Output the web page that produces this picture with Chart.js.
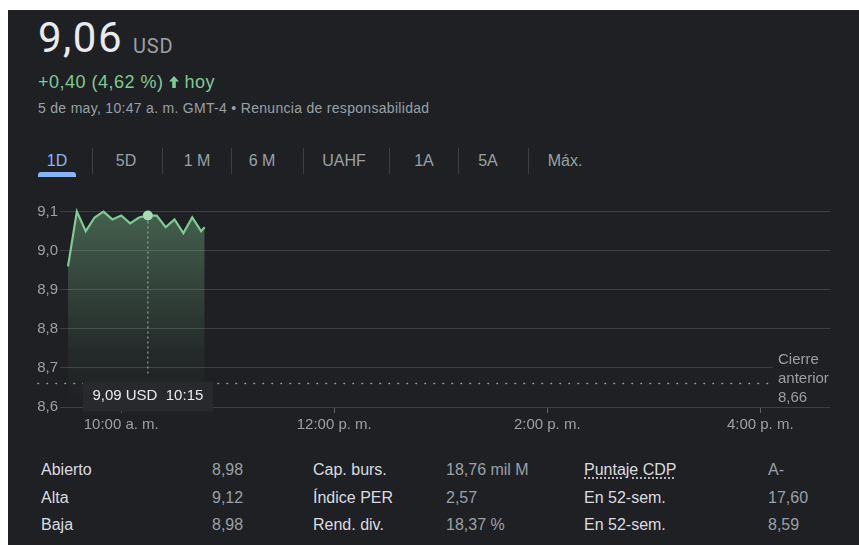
<!DOCTYPE html>
<html>
<head>
<meta charset="utf-8">
<script src="https://cdn.jsdelivr.net/npm/chart.js@4"></script>
<style>
body { margin: 0; width: 859px; height: 545px; overflow: hidden; background: #fff;
       font-family: "Liberation Sans", Arial, sans-serif; }
#panel { position: absolute; left: 8px; top: 10px; width: 851px; height: 535px; background: #1f2023; }
.t { position: absolute; white-space: nowrap; line-height: 1; }
.lbl { color: #dadce0; font-size: 16px; }
.val { color: #9aa0a6; font-size: 16px; }
.tab { color: #9aa0a6; font-size: 16px; transform: translateX(-50%); }
.sep { position: absolute; top: 148px; width: 1px; height: 26px; background: #3c4043; }
#wrap { position: absolute; left: 0; top: 185px; width: 859px; height: 255px; }
</style>
</head>
<body>
<div id="panel"></div>

<div class="t" style="left:38px;top:17px;font-family:Roboto;font-size:42px;color:#e8eaed;letter-spacing:1.5px">9,06</div>
<div class="t" style="left:133px;top:36px;font-family:Roboto;font-size:20px;color:#9aa0a6;letter-spacing:0.8px">USD</div>
<div class="t" style="left:38px;top:73px;font-size:18px;color:#81c995;letter-spacing:0.5px">+0,40 (4,62 %) <svg width="10" height="12" viewBox="0 0 10 12" style="vertical-align:0px"><path fill="#81c995" d="M5 0L10 5.5H6.8V12H3.2V5.5H0Z"/></svg> hoy</div>
<div class="t" style="left:38px;top:101px;font-size:14px;color:#9aa0a6;letter-spacing:0.3px">5 de may, 10:47 a. m. GMT-4 • Renuncia de responsabilidad</div>

<div class="t tab" style="left:57px;top:153px;color:#8ab4f8">1D</div>
<div style="position:absolute;left:38px;top:172px;width:38px;height:5px;background:#8ab4f8;border-radius:3px 3px 0 0"></div>
<div class="sep" style="left:92px"></div>
<div class="t tab" style="left:126px;top:153px">5D</div>
<div class="sep" style="left:162px"></div>
<div class="t tab" style="left:197px;top:153px">1 M</div>
<div class="sep" style="left:231px"></div>
<div class="t tab" style="left:262px;top:153px">6 M</div>
<div class="sep" style="left:303px"></div>
<div class="t tab" style="left:344px;top:153px">UAHF</div>
<div class="sep" style="left:389px"></div>
<div class="t tab" style="left:424px;top:153px">1A</div>
<div class="sep" style="left:458px"></div>
<div class="t tab" style="left:488px;top:153px">5A</div>
<div class="sep" style="left:528px"></div>
<div class="t tab" style="left:565px;top:153px">Máx.</div>

<div id="wrap"><canvas id="chart"></canvas></div>

<div class="t lbl" style="left:41px;top:462px">Abierto</div>
<div class="t val" style="left:212px;top:462px">8,98</div>
<div class="t lbl" style="left:313px;top:462px">Cap. burs.</div>
<div class="t val" style="left:446px;top:462px">18,76 mil M</div>
<div class="t lbl" style="left:584px;top:462px;text-decoration:underline dotted;text-underline-offset:3px">Puntaje CDP</div>
<div class="t val" style="left:768px;top:462px">A-</div>

<div class="t lbl" style="left:41px;top:490px">Alta</div>
<div class="t val" style="left:212px;top:490px">9,12</div>
<div class="t lbl" style="left:313px;top:490px">Índice PER</div>
<div class="t val" style="left:446px;top:490px">2,57</div>
<div class="t lbl" style="left:584px;top:490px">En 52-sem.</div>
<div class="t val" style="left:768px;top:490px">17,60</div>

<div class="t lbl" style="left:41px;top:517px">Baja</div>
<div class="t val" style="left:212px;top:517px">8,98</div>
<div class="t lbl" style="left:313px;top:517px">Rend. div.</div>
<div class="t val" style="left:446px;top:517px">18,37 %</div>
<div class="t lbl" style="left:584px;top:517px">En 52-sem.</div>
<div class="t val" style="left:768px;top:517px">8,59</div>

<script>
// intraday prices, 5 de may
const times = ['9:30', '9:35', '9:40', '9:45', '9:50', '9:55', '10:00', '10:05', '10:10',
               '10:15', '10:20', '10:25', '10:30', '10:35', '10:40', '10:45', '10:47'];
const prices = [8.96, 9.10, 9.05, 9.085, 9.10, 9.08, 9.09, 9.07, 9.085,
                9.09, 9.09, 9.06, 9.08, 9.045, 9.085, 9.05, 9.06];
const prevClose = 8.66;
const hoverIndex = 9;

const yTicks = [8.6, 8.7, 8.8, 8.9, 9.0, 9.1];
const xTickTimes = ['10:00', '12:00', '14:00', '16:00'];
const xTickLabels = ['10:00 a. m.', '12:00 p. m.', '2:00 p. m.', '4:00 p. m.'];

// minutes after the 9:30 open
function toMin(t) {
    const p = t.split(':');
    return (+p[0]) * 60 + (+p[1]) - 570;
}
const comma = (v, d) => v.toFixed(d).replace('.', ',');

const points = times.map((t, i) => ({ x: toMin(t), y: prices[i] }));

const green = '#81c995';

const overlay = {
    id: 'overlay',
    afterDraw(chart) {
        const { ctx, scales: { x, y } } = chart;
        const fam = '"Liberation Sans", Arial, sans-serif';
        ctx.save();

        // previous close dotted line
        const yc = y.getPixelForValue(prevClose);
        ctx.strokeStyle = '#9aa0a6';
        ctx.lineWidth = 1.6;
        ctx.lineCap = 'round';
        ctx.setLineDash([0.5, 8.5]);
        ctx.beginPath();
        ctx.moveTo(38, yc);
        ctx.lineTo(772, yc);
        ctx.stroke();

        // hover crosshair
        const hx = x.getPixelForValue(points[hoverIndex].x);
        const hy = y.getPixelForValue(points[hoverIndex].y);
        ctx.setLineDash([2, 3]);
        ctx.lineWidth = 1.2;
        ctx.lineCap = 'butt';
        ctx.beginPath();
        ctx.moveTo(hx, hy + 6);
        ctx.lineTo(hx, yc - 7);
        ctx.stroke();
        ctx.setLineDash([]);

        // hover label
        ctx.fillStyle = '#28292c';
        ctx.fillRect(hx - 65, yc - 2, 130, 30);
        ctx.fillStyle = '#e8eaed';
        ctx.font = '15px ' + fam;
        ctx.textAlign = 'center';
        ctx.textBaseline = 'middle';
        ctx.fillText(comma(prices[hoverIndex], 2) + ' USD  ' + times[hoverIndex], hx, yc + 12);

        // previous close label
        ctx.fillStyle = '#1f2023';
        ctx.fillRect(773, yc - 36, 60, 56);
        ctx.fillStyle = '#9aa0a6';
        ctx.textAlign = 'left';
        ctx.fillText('Cierre', 778, yc - 24);
        ctx.fillText('anterior', 778, yc - 5);
        ctx.fillText(comma(prevClose, 2), 778, yc + 14);
        ctx.restore();
    }
};

Chart.defaults.font.family = '"Liberation Sans", Arial, sans-serif';
Chart.defaults.color = '#9aa0a6';

new Chart(document.getElementById('chart'), {
    type: 'line',
    data: {
        datasets: [{
            data: points,
            borderColor: green,
            borderWidth: 2.2,
            tension: 0,
            fill: 'start',
            backgroundColor: function(context) {
                const area = context.chart.chartArea;
                if (!area) return 'rgba(129,201,149,0.3)';
                const g = context.chart.ctx.createLinearGradient(0, area.top, 0, area.bottom);
                g.addColorStop(0, 'rgba(129,201,149,0.42)');
                g.addColorStop(0.75, 'rgba(129,201,149,0.06)');
                g.addColorStop(1, 'rgba(129,201,149,0)');
                return g;
            },
            pointRadius: ctx => ctx.dataIndex === hoverIndex ? 5 : 0,
            pointBackgroundColor: '#a8dab5',
            pointBorderWidth: 0,
            clip: false
        }]
    },
    options: {
        responsive: true,
        maintainAspectRatio: false,
        animation: false,
        events: [],
        layout: { padding: { top: 6, right: 29, left: 0, bottom: 0 } },
        plugins: {
            legend: { display: false },
            tooltip: { enabled: false }
        },
        scales: {
            x: {
                type: 'linear',
                min: -4.5,
                max: 429.3,
                afterBuildTicks: axis => { axis.ticks = xTickTimes.map(t => ({ value: toMin(t) })); },
                afterFit: axis => { axis.height = 33; },
                border: { display: false },
                grid: { drawOnChartArea: false, drawTicks: true, tickLength: 6, color: '#5f6368' },
                ticks: {
                    padding: 3,
                    maxRotation: 0,
                    font: { size: 15 },
                    callback: (v, i) => xTickLabels[i]
                }
            },
            y: {
                min: 8.6,
                max: 9.14,
                afterBuildTicks: axis => { axis.ticks = yTicks.map(v => ({ value: v })); },
                afterFit: axis => { axis.width = 60; },
                border: { display: false },
                grid: { color: '#3c4043', drawTicks: false },
                ticks: {
                    padding: 2,
                    font: { size: 15 },
                    callback: v => comma(v, 1)
                }
            }
        }
    },
    plugins: [overlay]
});
</script>
</body>
</html>
